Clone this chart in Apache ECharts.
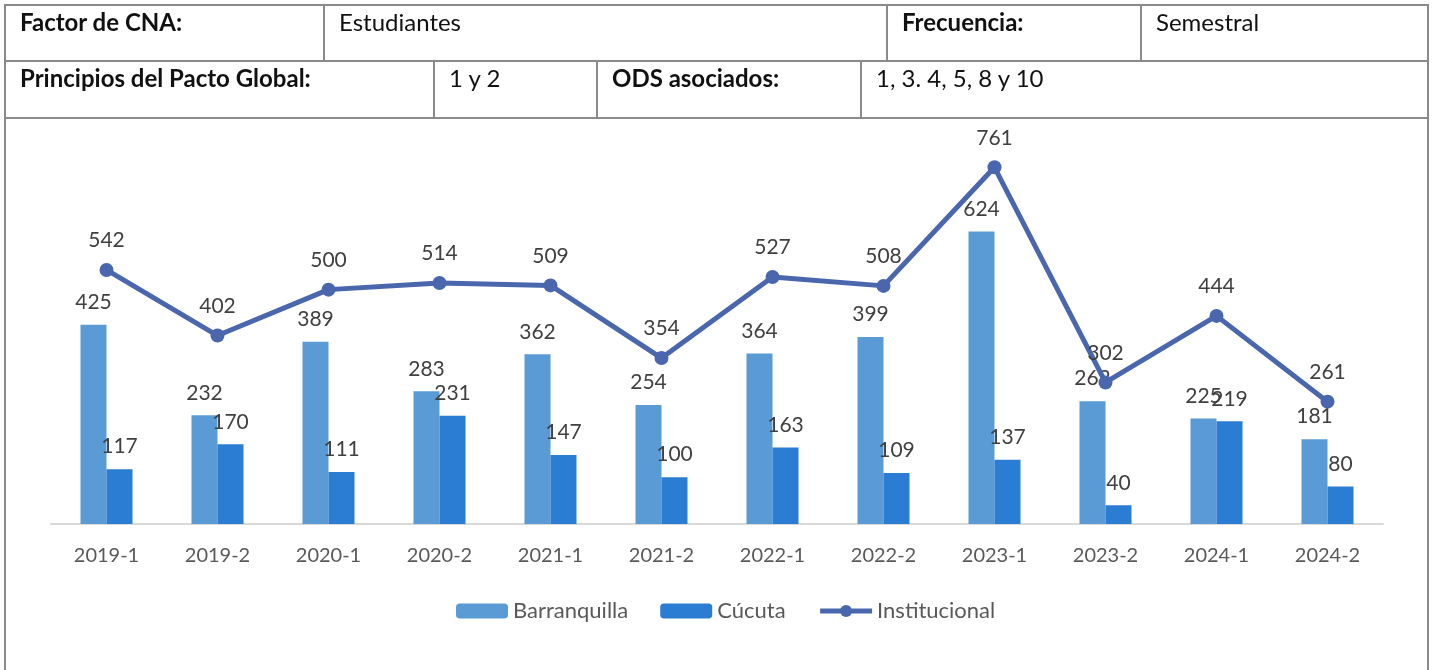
<!DOCTYPE html>
<html>
<head>
<meta charset="utf-8">
<script src="https://cdn.jsdelivr.net/npm/echarts@6/dist/echarts.min.js"></script>
<style>
  html, body { margin: 0; padding: 0; background: #fff; }
  body { width: 1436px; height: 670px; position: relative; overflow: hidden; font-family: Lato, "Noto Sans", sans-serif; }
  #chart { position: absolute; left: 0; top: 0; width: 1436px; height: 670px; }
  .cell { position: absolute; box-sizing: border-box; border: 2px solid #8a8a8a; padding: 2px 0 0 14px;
          font-size: 24px; color: #111; line-height: 28px; }
  .b { font-weight: bold; }
</style>
</head>
<body>
<div id="chart"></div>
<div class="cell b" style="left:4px;top:4px;width:321px;height:58px;">Factor de CNA:</div>
<div class="cell" style="left:323px;top:4px;width:565px;height:58px;">Estudiantes</div>
<div class="cell b" style="left:886px;top:4px;width:256px;height:58px;">Frecuencia:</div>
<div class="cell" style="left:1140px;top:4px;width:289px;height:58px;">Semestral</div>
<div class="cell b" style="left:4px;top:60px;width:431px;height:59px;">Principios del Pacto Global:</div>
<div class="cell" style="left:433px;top:60px;width:165px;height:59px;">1 y 2</div>
<div class="cell b" style="left:596px;top:60px;width:266px;height:59px;">ODS asociados:</div>
<div class="cell" style="left:860px;top:60px;width:569px;height:59px;">1, 3. 4, 5, 8 y 10</div>
<div class="cell" style="left:4px;top:117px;width:1425px;height:600px;"></div>
<script>
const categories = ['2019-1', '2019-2', '2020-1', '2020-2', '2021-1', '2021-2', '2022-1', '2022-2', '2023-1', '2023-2', '2024-1', '2024-2'];
const barranquilla = [425, 232, 389, 283, 362, 254, 364, 399, 624, 262, 225, 181];
const cucuta = [117, 170, 111, 231, 147, 100, 163, 109, 137, 40, 219, 80];
const institucional = [542, 402, 500, 514, 509, 354, 527, 508, 761, 302, 444, 261];

const chart = echarts.init(document.getElementById('chart'));
const font = 'Lato, "Noto Sans", sans-serif';
const labelStyle = { show: true, position: 'top', color: '#404040', fontSize: 21, fontFamily: font };

chart.setOption({
    animation: false,
    grid: { left: 51, right: 53, top: 149, bottom: 146 },
    legend: {
        top: 595,
        left: 451,
        itemWidth: 52,
        itemHeight: 15,
        itemGap: 32,
        textStyle: { color: '#595959', fontSize: 22, fontFamily: font },
        data: [
            'Barranquilla',
            'Cúcuta',
            { name: 'Institucional', lineStyle: { width: 5 } }
        ]
    },
    xAxis: {
        type: 'category',
        data: categories,
        axisLine: { lineStyle: { color: '#d9d9d9', width: 2 } },
        axisTick: { show: false },
        axisLabel: { color: '#595959', fontSize: 20, fontFamily: font, margin: 22 }
    },
    yAxis: {
        type: 'value',
        min: 0,
        max: 800,
        show: false,
        splitLine: { show: false }
    },
    series: [
        {
            name: 'Barranquilla',
            type: 'bar',
            data: barranquilla,
            barWidth: 26,
            barGap: '0%',
            itemStyle: { color: '#5B9BD5' },
            label: Object.assign({}, labelStyle, { distance: 12 })
        },
        {
            name: 'Cúcuta',
            type: 'bar',
            data: cucuta,
            barWidth: 26,
            itemStyle: { color: '#2B7CD3' },
            label: Object.assign({}, labelStyle, { distance: 12 })
        },
        {
            name: 'Institucional',
            type: 'line',
            data: institucional,
            symbol: 'circle',
            symbolSize: 14,
            lineStyle: { color: '#4A66AC', width: 5 },
            itemStyle: { color: '#4A66AC' },
            label: Object.assign({}, labelStyle, { distance: 12 }),
            z: 5
        }
    ]
});
</script>
</body>
</html>
